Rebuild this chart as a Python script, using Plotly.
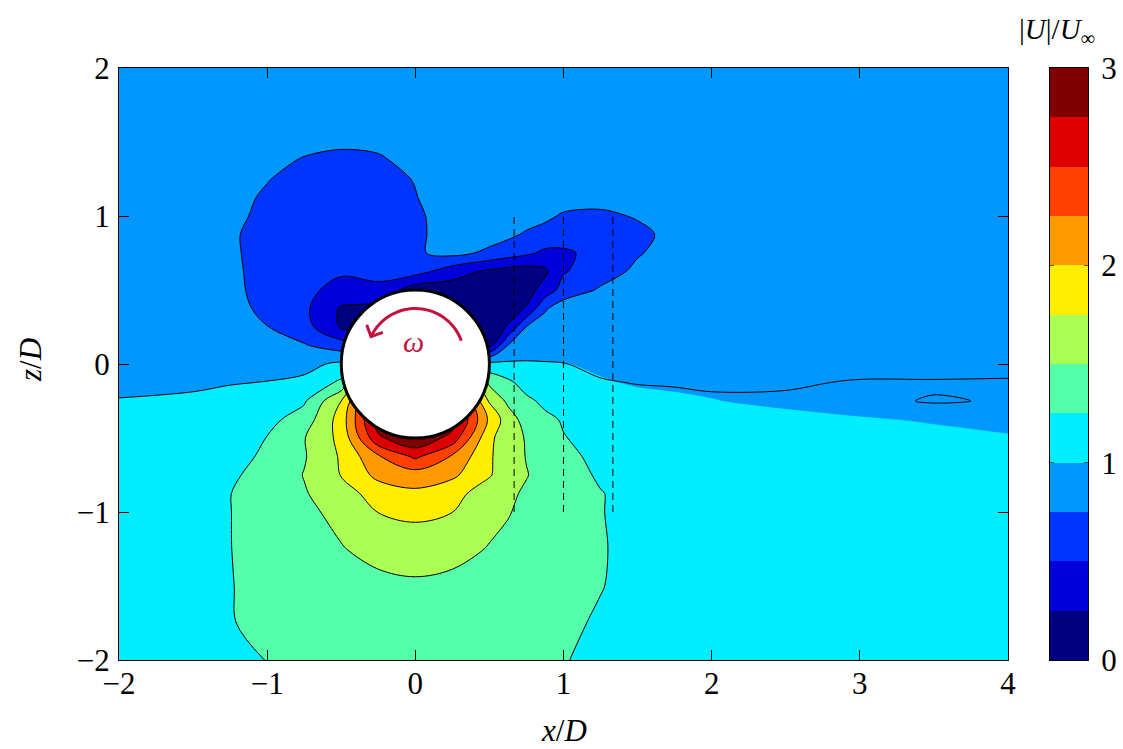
import copy
import numpy as np
import plotly.graph_objects as go

# ---------------- data ----------------
x_D = [-2, -1.5, -1.25, -1, -0.75, -0.5, -0.25, 0, 0.25, 0.5, 0.625, 0.75, 0.875,
       1, 1.25, 1.5, 1.75, 2, 2.5, 3, 3.5, 4]
z_D = [-2, -1.75, -1.5, -1.25, -1, -0.875, -0.75, -0.625, -0.5, -0.375, -0.25, -0.125,
       0, 0.125, 0.25, 0.375, 0.5, 0.625, 0.75, 0.875, 1, 1.125, 1.25, 1.375, 1.5, 1.75, 2]

# |U|/U_inf, one row per z_D value, columns follow x_D
U_mag = [
    [1.10, 1.11, 1.12, 1.26, 1.30, 1.33, 1.35, 1.36, 1.35, 1.33, 1.315, 1.30, 1.28, 1.26, 1.20, 1.13, 1.11, 1.10, 1.10, 1.10, 1.10, 1.10],
    [1.10, 1.15, 1.24, 1.30, 1.34, 1.37, 1.39, 1.40, 1.39, 1.37, 1.355, 1.34, 1.32, 1.30, 1.22, 1.14, 1.11, 1.10, 1.10, 1.10, 1.10, 1.10],
    [1.10, 1.16, 1.24, 1.33, 1.38, 1.42, 1.45, 1.46, 1.45, 1.42, 1.40, 1.38, 1.355, 1.33, 1.26, 1.17, 1.12, 1.10, 1.10, 1.10, 1.10, 1.10],
    [1.10, 1.17, 1.245, 1.36, 1.43, 1.49, 1.56, 1.62, 1.56, 1.49, 1.46, 1.43, 1.40, 1.36, 1.27, 1.17, 1.12, 1.10, 1.10, 1.10, 1.10, 1.10],
    [1.10, 1.17, 1.245, 1.38, 1.46, 1.55, 1.755, 1.80, 1.752, 1.55, 1.51, 1.46, 1.42, 1.38, 1.26, 1.17, 1.12, 1.10, 1.10, 1.10, 1.10, 1.10],
    [1.10, 1.18, 1.245, 1.39, 1.48, 1.65, 1.85, 1.95, 1.83, 1.63, 1.54, 1.47, 1.43, 1.39, 1.26, 1.17, 1.12, 1.10, 1.10, 1.10, 1.10, 1.10],
    [1.09, 1.16, 1.22, 1.32, 1.51, 1.76, 2.07, 2.13, 2.05, 1.77, 1.62, 1.51, 1.42, 1.35, 1.22, 1.16, 1.12, 1.10, 1.10, 1.10, 1.10, 1.10],
    [1.08, 1.14, 1.21, 1.27, 1.48, 1.78, 2.22, 2.55, 2.22, 1.78, 1.62, 1.49, 1.39, 1.30, 1.20, 1.14, 1.11, 1.09, 1.08, 1.07, 1.06, 1.05],
    [1.07, 1.12, 1.17, 1.255, 1.49, 1.82, 2.70, 2.98, 2.65, 1.80, 1.62, 1.48, 1.36, 1.26, 1.17, 1.12, 1.10, 1.08, 1.06, 1.05, 1.03, 1.01],
    [1.05, 1.09, 1.13, 1.18, 1.36, 1.86, 2.90, 2.99, 2.90, 1.95, 1.62, 1.40, 1.30, 1.23, 1.12, 1.09, 1.07, 1.06, 1.04, 1.01, 0.99, 0.97],
    [1.01, 1.03, 1.06, 1.10, 1.22, 1.75, 2.80, 2.90, 2.80, 1.72, 1.45, 1.30, 1.20, 1.15, 1.08, 1.03, 1.02, 1.005, 0.97, 0.95, 0.93, 0.92],
    [0.95, 0.97, 0.99, 1.005, 1.05, 1.30, 2.30, 2.50, 2.30, 1.45, 1.30, 1.15, 1.08, 1.04, 1.01, 0.99, 0.98, 0.97, 0.95, 0.93, 0.92, 0.91],
    [0.92, 0.93, 0.94, 0.94, 0.93, 1.05, 1.20, 1.20, 1.20, 1.08, 1.04, 1.03, 1.015, 1.005, 0.98, 0.96, 0.95, 0.94, 0.93, 0.92, 0.92, 0.92],
    [0.91, 0.91, 0.90, 0.87, 0.77, 0.62, 0.50, 0.40, 0.20, 0.18, 0.76, 0.86, 0.90, 0.92, 0.93, 0.93, 0.92, 0.92, 0.92, 0.92, 0.92, 0.92],
    [0.90, 0.89, 0.86, 0.755, 0.60, 0.22, 0.20, 0.20, 0.15, 0.12, 0.27, 0.76, 0.86, 0.89, 0.90, 0.90, 0.90, 0.90, 0.91, 0.91, 0.91, 0.91],
    [0.90, 0.88, 0.82, 0.70, 0.55, 0.22, 0.15, 0.10, 0.10, 0.10, 0.15, 0.27, 0.72, 0.88, 0.90, 0.90, 0.90, 0.90, 0.91, 0.91, 0.91, 0.91],
    [0.90, 0.87, 0.80, 0.68, 0.56, 0.42, 0.45, 0.10, 0.12, 0.12, 0.13, 0.15, 0.35, 0.60, 0.78, 0.86, 0.88, 0.90, 0.90, 0.90, 0.91, 0.91],
    [0.90, 0.86, 0.79, 0.68, 0.60, 0.53, 0.56, 0.60, 0.36, 0.20, 0.15, 0.12, 0.20, 0.48, 0.64, 0.80, 0.87, 0.89, 0.90, 0.90, 0.91, 0.91],
    [0.90, 0.86, 0.78, 0.68, 0.65, 0.64, 0.66, 0.72, 0.82, 0.70, 0.62, 0.55, 0.45, 0.46, 0.58, 0.73, 0.85, 0.88, 0.90, 0.90, 0.91, 0.91],
    [0.90, 0.86, 0.78, 0.67, 0.64, 0.64, 0.65, 0.70, 0.86, 0.85, 0.80, 0.72, 0.66, 0.62, 0.64, 0.69, 0.82, 0.87, 0.90, 0.90, 0.91, 0.91],
    [0.90, 0.87, 0.80, 0.70, 0.64, 0.63, 0.64, 0.70, 0.88, 0.89, 0.88, 0.85, 0.80, 0.72, 0.70, 0.77, 0.87, 0.89, 0.90, 0.90, 0.91, 0.91],
    [0.90, 0.88, 0.82, 0.72, 0.66, 0.64, 0.66, 0.74, 0.88, 0.90, 0.90, 0.90, 0.89, 0.86, 0.84, 0.86, 0.89, 0.90, 0.90, 0.90, 0.91, 0.91],
    [0.90, 0.89, 0.86, 0.76, 0.67, 0.65, 0.68, 0.76, 0.88, 0.90, 0.90, 0.90, 0.90, 0.90, 0.90, 0.90, 0.90, 0.90, 0.90, 0.90, 0.91, 0.91],
    [0.90, 0.90, 0.88, 0.82, 0.73, 0.69, 0.72, 0.82, 0.89, 0.90, 0.90, 0.90, 0.90, 0.90, 0.90, 0.90, 0.90, 0.90, 0.90, 0.90, 0.91, 0.91],
    [0.90, 0.90, 0.90, 0.88, 0.82, 0.79, 0.80, 0.86, 0.90, 0.90, 0.90, 0.90, 0.90, 0.90, 0.90, 0.90, 0.90, 0.90, 0.90, 0.90, 0.91, 0.91],
    [0.90] * 22,
    [0.90] * 22,
]

# the black iso-lines come from a slightly smoother field on the lower right
line_rows_z = [-0.5, -0.375, -0.25, -0.125, 0]
line_rows_right = [   # values for x_D >= 1.25
    [1.17, 1.12, 1.10, 1.08, 1.06, 1.05, 1.04, 1.04],
    [1.12, 1.09, 1.07, 1.06, 1.05, 1.04, 1.04, 1.04],
    [1.05, 1.04, 1.03, 1.02, 1.02, 1.015, 0.995, 1.005],
    [1.01, 0.995, 0.99, 0.98, 0.985, 1.01, 1.01, 1.015],
    [0.97, 0.96, 0.95, 0.94, 0.93, 0.95, 0.95, 0.95],
]

profile_x = [2 / 3, 1.0, 4 / 3]        # dashed measurement profiles
profile_z = [-1.0, 1.0]

band_colors = ["#000080", "#0000DA", "#0034FF", "#0098FF", "#00EEFF", "#55FFAA",
               "#AAFF55", "#FFEE00", "#FF9900", "#FF4000", "#DC0000", "#800000"]
levels = dict(start=0.0, end=3.0, size=0.25)
cbar_ticks = [0, 1, 2, 3]

# ---------------- figure ----------------
U_lines = copy.deepcopy(U_mag)
i_right = x_D.index(1.25)
for zz, vals in zip(line_rows_z, line_rows_right):
    U_lines[z_D.index(zz)][i_right:] = vals

n_lv = int(round((levels["end"] - levels["start"]) / levels["size"])) + 1
cscale = [[0.0, band_colors[0]]]
for k, c in enumerate(band_colors):
    cscale.append([(k + 0.6) / n_lv, c])
    cscale.append([(k + 1.4) / n_lv, c])
cscale.append([1.0, band_colors[-1]])

# stepped scale for the hand-built colour bar
nb = len(band_colors)
cbar_scale = []
for k, c in enumerate(band_colors):
    cbar_scale.append([k / nb, c])
    cbar_scale.append([(k + 1) / nb, c])
band_mid = [levels["start"] + (k + 0.5) * levels["size"] for k in range(nb)]

# pixel geometry of the page
W, H = 1123, 749
L, R, T, B = 119, 35, 68, 89
pw = W - L - R
ph = H - T - B
def px_x(p):
    return (p - L) / pw
def px_y(p):
    return (H - B - p) / ph

SERIF = "Liberation Serif"
fig = go.Figure()
fig.add_trace(go.Contour(
    x=x_D, y=z_D, z=U_mag,
    contours=dict(start=levels["start"], end=levels["end"], size=levels["size"],
                  coloring="fill", showlines=False),
    colorscale=cscale, line=dict(width=0), showscale=False,
    hoverinfo="skip",
))
fig.add_trace(go.Contour(
    x=x_D, y=z_D, z=U_lines,
    contours=dict(start=0.25, end=2.75, size=0.25, coloring="none"),
    line=dict(color="black", width=1),
    showscale=False, hoverinfo="skip",
))
fig.add_trace(go.Heatmap(
    x=[0], y=band_mid, z=[[m] for m in band_mid],
    colorscale=cbar_scale, zmin=levels["start"], zmax=levels["end"],
    showscale=False, xaxis="x2", yaxis="y2", hoverinfo="skip",
))

shapes = []
for px in profile_x:
    shapes.append(dict(type="line", xref="x", yref="y", x0=px, x1=px,
                       y0=profile_z[0], y1=profile_z[1],
                       line=dict(color="black", width=1, dash="7px,5px"), layer="above"))
shapes.append(dict(type="circle", xref="x", yref="y", x0=-0.5, x1=0.5, y0=-0.5, y1=0.5,
                   fillcolor="white", line=dict(color="black", width=3), layer="above"))

# rotation arrow (decoration)
crimson = "#C4123F"
th = np.radians(np.linspace(20, 155, 40))
ax_, az_ = 0.33 * np.cos(th), 0.045 + 0.33 * np.sin(th)
path = "M " + " L ".join(f"{a:.4f},{b:.4f}" for a, b in zip(ax_, az_))
shapes.append(dict(type="path", xref="x", yref="y", path=path,
                   line=dict(color=crimson, width=3), layer="above"))
tip = (ax_[-1], az_[-1])
back = np.array([np.sin(th[-1]), -np.cos(th[-1])])
barbs = []
for ang in (np.radians(45), np.radians(-45)):
    rot = np.array([[np.cos(ang), -np.sin(ang)], [np.sin(ang), np.cos(ang)]])
    barbs.append(rot @ back * 0.085)
apath = (f"M {tip[0] + barbs[0][0]:.4f},{tip[1] + barbs[0][1]:.4f} L {tip[0]:.4f},{tip[1]:.4f} "
         f"L {tip[0] + barbs[1][0]:.4f},{tip[1] + barbs[1][1]:.4f}")
shapes.append(dict(type="path", xref="x", yref="y", path=apath,
                   line=dict(color=crimson, width=3), layer="above"))

annotations = [
    dict(text="<i>ω</i>", x=-0.01, y=0.15, xref="x", yref="y", showarrow=False,
         font=dict(family=SERIF, size=30, color=crimson)),
    dict(text="<i>x</i>/<i>D</i>", x=px_x(564), y=px_y(730), xref="paper", yref="paper",
         showarrow=False, xanchor="center", yanchor="middle",
         font=dict(family=SERIF, size=31, color="black")),
    dict(text="<i>z</i>/<i>D</i>", x=px_x(30), y=px_y(360), xref="paper",
         yref="paper", showarrow=False, textangle=-90, xanchor="center", yanchor="middle",
         font=dict(family=SERIF, size=31, color="black")),
    dict(text="|<i>U</i>|/<i>U</i><sub>∞</sub>", x=px_x(1057), y=px_y(31),
         xref="paper", yref="paper", showarrow=False, xanchor="center", yanchor="middle",
         font=dict(family=SERIF, size=29, color="black")),
]

axis_common = dict(showline=True, linecolor="black", linewidth=1, mirror="ticks",
                   ticks="inside", ticklen=10, tickwidth=1, tickcolor="black",
                   showgrid=False, zeroline=False, automargin=False,
                   tickfont=dict(family=SERIF, size=31, color="black"))
fig.update_layout(
    width=W, height=H,
    margin=dict(l=L, r=R, t=T, b=B, autoexpand=False),
    paper_bgcolor="white", plot_bgcolor="white",
    xaxis=dict(range=[-2, 4], tickvals=[-2, -1, 0, 1, 2, 3, 4], ticklabelstandoff=-4,
               domain=[0, px_x(1008)], **axis_common),
    yaxis=dict(range=[-2, 2], tickvals=[-2, -1, 0, 1, 2], ticklabelstandoff=2,
               domain=[0, 1], **axis_common),
    xaxis2=dict(domain=[px_x(1050), px_x(1088)], range=[-0.5, 0.5], anchor="y2",
                showline=True, mirror=True, linecolor="black", linewidth=1,
                showticklabels=False, ticks="", showgrid=False, zeroline=False,
                automargin=False),
    yaxis2=dict(domain=[0, 1], range=[levels["start"], levels["end"]], anchor="x2",
                side="right", showline=True, mirror="ticks", linecolor="black",
                linewidth=1, ticks="inside", ticklen=4, tickcolor="#555555",
                tickvals=cbar_ticks, showgrid=False, zeroline=False,
                ticklabelstandoff=6, automargin=False,
                tickfont=dict(family=SERIF, size=31, color="black")),
    shapes=shapes, annotations=annotations, showlegend=False,
)
fig.write_html("out.html")
